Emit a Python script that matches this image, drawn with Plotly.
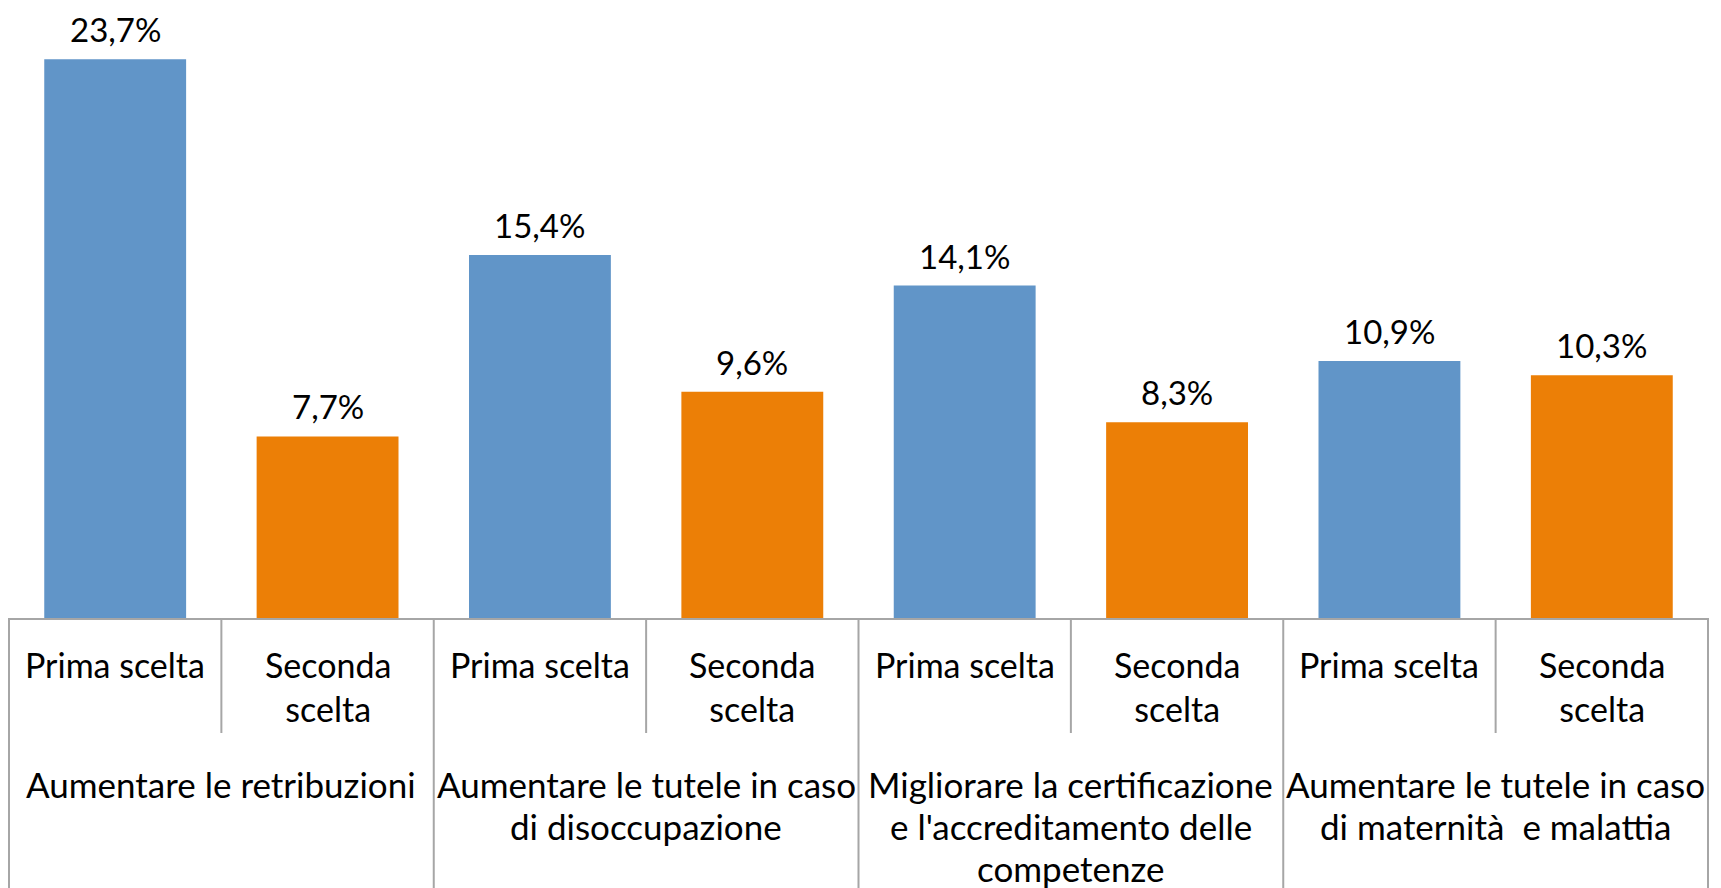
import plotly.graph_objects as go

groups = [
    "Aumentare le retribuzioni",
    "Aumentare le tutele in caso<br>di disoccupazione",
    "Migliorare la certificazione<br>e l'accreditamento delle<br>competenze",
    "Aumentare le tutele in caso<br>di maternità  e malattia",
]
sub_labels = ["Prima scelta", "Seconda<br>scelta"]
prima = [23.7, 15.4, 14.1, 10.9]
seconda = [7.7, 9.6, 8.3, 10.3]

BLUE = "#6195C8"
ORANGE = "#EC7F06"
GRID = "#A6A6A6"
FONT = "Lato"

# page body has an 8px margin; figure sized to fit the window
W, H = 1713, 880
ML, MR, MT, MB = 1, 13, 0, 270
PLOT_H = H - MT - MB
n_cat = 2 * len(groups)

def fmt(v):
    return f"{v:.1f}".replace(".", ",") + "%"

x_prima = [2 * g for g in range(len(groups))]
x_seconda = [2 * g + 1 for g in range(len(groups))]

fig = go.Figure()
fig.add_trace(go.Bar(x=x_prima, y=prima, marker=dict(color=BLUE, line=dict(width=0)),
                     width=0.668, name="Prima scelta", showlegend=False, hoverinfo="skip"))
fig.add_trace(go.Bar(x=x_seconda, y=seconda, marker=dict(color=ORANGE, line=dict(width=0)),
                     width=0.668, name="Seconda scelta", showlegend=False, hoverinfo="skip"))

annotations = []
for xs, ys in ((x_prima, prima), (x_seconda, seconda)):
    for x, v in zip(xs, ys):
        annotations.append(dict(x=x, y=v, xref="x", yref="y", text=fmt(v), showarrow=False,
                                yanchor="bottom", yshift=9, borderpad=0,
                                font=dict(family=FONT, size=33, color="black")))

# category axis labels
for i in range(n_cat):
    annotations.append(dict(x=i, y=0, xref="x", yref="paper", text=sub_labels[i % 2],
                            showarrow=False, yanchor="top", yshift=-24, align="center",
                            font=dict(family=FONT, size=34, color="black")))
for g, lab in enumerate(groups):
    for k, line in enumerate(lab.split("<br>")):
        annotations.append(dict(x=2 * g + 0.5, y=0, xref="x", yref="paper", text=line,
                                showarrow=False, yanchor="top", yshift=-143 - 42 * k,
                                align="center",
                                font=dict(family=FONT, size=35, color="black")))

shapes = []
def px_frac(xv):
    return (xv + 0.5) / n_cat

for g in range(len(groups) + 1):
    xv = 2 * g - 0.5
    shapes.append(dict(type="line", xref="paper", yref="paper", x0=px_frac(xv), x1=px_frac(xv),
                       y0=0, y1=-MB / PLOT_H, line=dict(color=GRID, width=2)))
for g in range(len(groups)):
    xv = 2 * g + 0.5
    shapes.append(dict(type="line", xref="paper", yref="paper", x0=px_frac(xv), x1=px_frac(xv),
                       y0=0, y1=-115 / PLOT_H, line=dict(color=GRID, width=2)))

fig.update_layout(
    width=W, height=H,
    margin=dict(l=ML, r=MR, t=MT, b=MB, pad=0),
    paper_bgcolor="white", plot_bgcolor="white",
    barmode="overlay",
    xaxis=dict(range=[-0.5, n_cat - 0.5], showticklabels=False, showgrid=False, zeroline=False,
               showline=True, linecolor=GRID, linewidth=2, ticks=""),
    yaxis=dict(range=[0, 25.87], visible=False, showgrid=False, zeroline=False),
    annotations=annotations,
    shapes=shapes,
    showlegend=False,
)

fig.write_html("out.html")
